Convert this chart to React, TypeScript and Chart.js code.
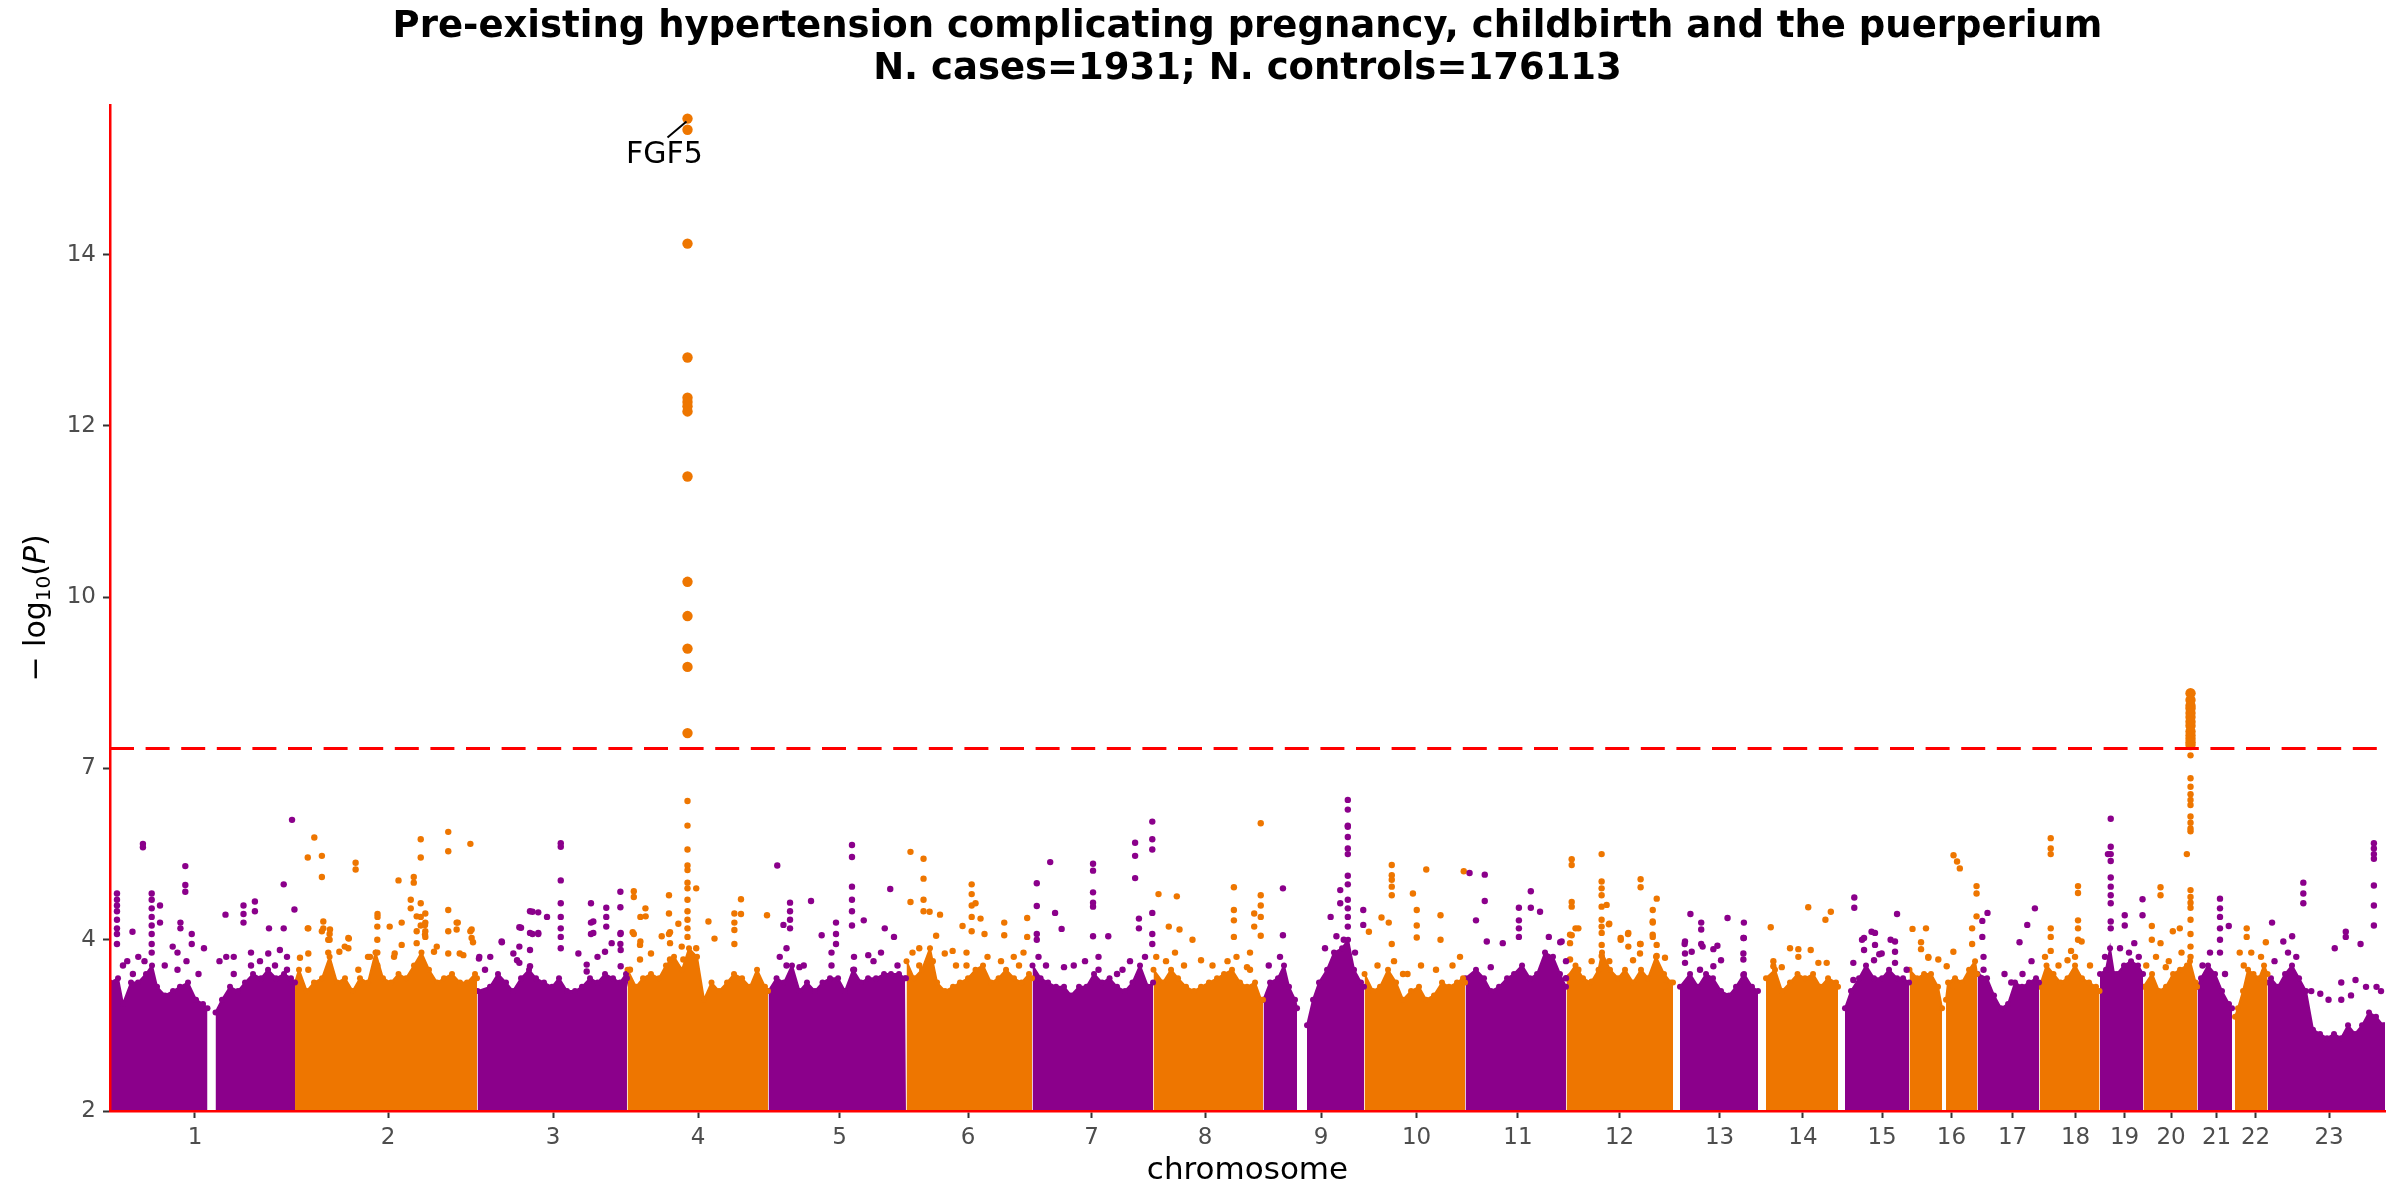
import React, { useEffect, useRef } from 'react';
import { Chart, registerables, LinearScale } from 'chart.js';

const PURPLE = '#8B008B';
const ORANGE = '#EE7600';
const FONT = "'DejaVu Sans', sans-serif";

const titleLines = [
  'Pre-existing hypertension complicating pregnancy, childbirth and the puerperium',
  'N. cases=1931; N. controls=176113',
];

// -log10(P) ticks, shown evenly spaced (stretched axis)
const yTicks = [2, 4, 7, 10, 12, 14];
const yMax = 15.75;
const sigLine = 7.35;

// cumulative genome position (Mb)
const xMax = 3033.3;
const chrLabels = ['1', '2', '3', '4', '5', '6', '7', '8', '9', '10', '11', '12', '13', '14', '15', '16', '17', '18', '19', '20', '21', '22', '23'];
const chrTickPos = [113.3, 370.7, 590.7, 784, 972.7, 1144, 1308.7, 1460, 1614.7, 1742, 1877.3, 2012.7, 2146, 2257.3, 2362.7, 2455.3, 2536.7, 2620.7, 2686, 2748, 2808.7, 2860.7, 2958.7];

const geneLabels = [{ gene: 'FGF5', x: 770, y: 15.59 }];

// top of the dense bulk of SNPs per chromosome [position, -log10 P]; null = no SNPs
const band1 = [[0, 3.5], [10.7, 3.55], [17.3, 3.25], [28, 3.5], [37.3, 3.5], [48, 3.6], [56, 3.7], [62.7, 3.45], [73.3, 3.35], [84, 3.4], [93.3, 3.45], [104, 3.5], [114.7, 3.3], [124, 3.25], [130, 3.2], [134.7, null], [140.7, 3.15], [149.3, 3.3], [160, 3.45], [170.7, 3.4], [180, 3.5], [190.7, 3.6], [201.3, 3.55], [210.7, 3.65], [221.3, 3.55], [232, 3.6], [241.3, 3.55], [246.7, 3.5]];
const band2 = [[246.7, 3.5], [252, 3.65], [262.3, 3.4], [272, 3.5], [282.7, 3.55], [292.8, 3.8], [302.7, 3.5], [313.3, 3.55], [323.5, 3.4], [333.3, 3.55], [344, 3.5], [354, 3.85], [364, 3.55], [374.7, 3.5], [384.7, 3.6], [394.7, 3.55], [405.3, 3.7], [415.3, 3.85], [425.3, 3.65], [436, 3.5], [445.3, 3.55], [456, 3.6], [466.7, 3.5], [476, 3.5], [486.7, 3.6], [489.3, 3.55]];
const band3 = [[490, 3.4], [506.7, 3.45], [517.3, 3.6], [528, 3.5], [537.3, 3.4], [548, 3.55], [558.7, 3.65], [568, 3.55], [578.7, 3.5], [589.3, 3.45], [598.7, 3.55], [609.3, 3.4], [620, 3.4], [629.3, 3.45], [640, 3.55], [650, 3.5], [660, 3.6], [670.7, 3.55], [680, 3.5], [688, 3.6], [689.3, 3.55]];
const band4 = [[690, 3.65], [701.3, 3.45], [710.7, 3.55], [721.3, 3.6], [732, 3.55], [741.3, 3.7], [752, 3.8], [762.7, 3.65], [772, 3.9], [782.7, 3.8], [792, 3.3], [802, 3.5], [812, 3.4], [822.7, 3.5], [832, 3.6], [842.7, 3.55], [853.3, 3.45], [862.7, 3.65], [873.3, 3.45], [877.3, 3.4]];
const band5 = [[878, 3.4], [888.7, 3.55], [898.7, 3.5], [909.3, 3.7], [919.3, 3.4], [929.3, 3.5], [940, 3.4], [950, 3.5], [960, 3.55], [970.7, 3.55], [980, 3.4], [990.7, 3.65], [1001.3, 3.5], [1010.7, 3.55], [1021.3, 3.55], [1032, 3.6], [1041.3, 3.6], [1052, 3.6], [1060, 3.55], [1061.3, 3.55]];
const band6 = [[1062, 3.75], [1072, 3.55], [1082.7, 3.65], [1093.3, 3.9], [1102.7, 3.5], [1113.3, 3.4], [1124, 3.45], [1133.3, 3.5], [1144, 3.55], [1154, 3.65], [1164, 3.7], [1174.7, 3.5], [1184.7, 3.55], [1194.7, 3.65], [1205.3, 3.55], [1215.3, 3.5], [1225.3, 3.6], [1229.3, 3.55]];
const band7 = [[1230, 3.7], [1240.8, 3.55], [1250.7, 3.5], [1261.3, 3.45], [1272, 3.45], [1281.3, 3.35], [1292, 3.45], [1302, 3.45], [1312, 3.6], [1322.7, 3.5], [1332.7, 3.55], [1342.7, 3.45], [1353.3, 3.4], [1363.3, 3.5], [1373.3, 3.7], [1384, 3.45], [1390.7, 3.5]];
const band8 = [[1391.3, 3.65], [1404, 3.5], [1414.7, 3.65], [1424, 3.55], [1434.7, 3.45], [1445.3, 3.4], [1454.7, 3.45], [1465.3, 3.5], [1476, 3.55], [1485.3, 3.6], [1496, 3.65], [1506.7, 3.5], [1516, 3.45], [1526.7, 3.5], [1534.7, 3.3], [1537.3, 3.3]];
const band9 = [[1538, 3.3], [1546.7, 3.5], [1557.3, 3.55], [1565.3, 3.7], [1572, 3.45], [1580, 3.3], [1582.7, 3.2], [1589.3, null], [1596, 3.0], [1604, 3.3], [1612, 3.5], [1622.7, 3.65], [1632, 3.85], [1642.7, 3.9], [1650.7, 4.0], [1658.7, 3.65], [1668, 3.5], [1672, 3.45]];
const band10 = [[1672.7, 3.6], [1684, 3.4], [1693.3, 3.45], [1704, 3.65], [1714.7, 3.5], [1724, 3.3], [1734.7, 3.4], [1745.3, 3.45], [1754.7, 3.3], [1765.3, 3.35], [1776, 3.5], [1785.3, 3.45], [1796, 3.5], [1804, 3.55], [1806.7, 3.5]];
const band11 = [[1807.3, 3.55], [1821.3, 3.65], [1832, 3.55], [1841.3, 3.4], [1852, 3.45], [1862.7, 3.55], [1872, 3.6], [1882.7, 3.7], [1893.3, 3.55], [1902.7, 3.6], [1913.3, 3.85], [1924, 3.8], [1933.3, 3.6], [1941.3, 3.45]];
const band12 = [[1942, 3.55], [1954, 3.7], [1964, 3.55], [1974.7, 3.5], [1984.7, 3.65], [1989.3, 3.85], [2000, 3.65], [2010.7, 3.55], [2020, 3.65], [2030.7, 3.5], [2041.3, 3.65], [2050.7, 3.55], [2061.3, 3.8], [2072, 3.6], [2081.3, 3.5], [2084, 3.5]];
const band13 = [[2093.3, 3.45], [2106.7, 3.6], [2117.3, 3.45], [2128, 3.6], [2137.3, 3.55], [2148, 3.4], [2158.7, 3.35], [2168, 3.45], [2178.7, 3.6], [2189.3, 3.45], [2197.3, 3.4]];
const band14 = [[2208, 3.55], [2220, 3.65], [2229.3, 3.4], [2240, 3.5], [2250, 3.6], [2260, 3.55], [2270.7, 3.6], [2280.7, 3.45], [2290.7, 3.55], [2301.3, 3.5], [2304, 3.45]];
const band15 = [[2313.3, 3.2], [2321.3, 3.4], [2332, 3.55], [2341.3, 3.7], [2352, 3.55], [2362.7, 3.55], [2372, 3.65], [2382.7, 3.55], [2390.7, 3.55], [2398.7, 3.5]];
const band16 = [[2399.3, 3.65], [2409.3, 3.55], [2418.7, 3.6], [2428, 3.6], [2437.3, 3.45], [2442.7, 3.2], [2445.3, null], [2448, 3.3], [2450.7, 3.5], [2460, 3.55], [2469.3, 3.5], [2478.7, 3.65], [2486.7, 3.75], [2489.3, 3.6]];
const band17 = [[2490, 3.6], [2502.7, 3.55], [2512, 3.35], [2521.3, 3.2], [2530.7, 3.25], [2540, 3.5], [2549.3, 3.45], [2558.7, 3.5], [2568, 3.55], [2572, 3.5]];
const band18 = [[2572.7, 3.45], [2582, 3.7], [2591.3, 3.6], [2600.7, 3.5], [2610, 3.55], [2620, 3.7], [2629.3, 3.55], [2638.7, 3.5], [2648, 3.45], [2652.7, 3.4]];
const band19 = [[2653.3, 3.6], [2661.3, 3.65], [2666.7, 3.9], [2672, 3.6], [2676, 3.6], [2685.3, 3.7], [2694.7, 3.75], [2704, 3.7], [2710.7, 3.6]];
const band20 = [[2711.3, 3.45], [2722.7, 3.6], [2732, 3.4], [2741.3, 3.45], [2750.7, 3.6], [2760, 3.65], [2769.3, 3.7], [2773.3, 3.75], [2780.7, 3.5], [2782.7, 3.45]];
const band21 = [[2783.3, 3.45], [2788, 3.55], [2797.3, 3.7], [2806.7, 3.6], [2816, 3.4], [2825.3, 3.25], [2829.3, 3.2]];
const band22 = [[2833.3, 3.1], [2837.3, 3.2], [2844, 3.4], [2850.7, 3.65], [2858, 3.6], [2865.3, 3.55], [2872, 3.7], [2876.7, 3.6]];
const band23 = [[2877.3, 3.5], [2881.3, 3.55], [2890.7, 3.45], [2900, 3.6], [2909.3, 3.7], [2918.7, 3.55], [2928, 3.4], [2937.3, 2.95], [2946.7, 2.9], [2956, 2.85], [2965.3, 2.9], [2974.7, 2.85], [2984, 3.0], [2993.3, 2.9], [3002.7, 3.0], [3012, 3.15], [3021.3, 3.1], [3030.7, 3.0], [3033.3, 3.0]];

// SNPs standing out above the bulk: [position, [-log10 P, ...]]
const hits1 = [[9.3, [4.81, 4.7, 4.6, 4.5, 4.35, 4.2, 4.1, 3.95]], [17.3, [3.7]], [23, [3.75]], [30, [4.14]], [30.5, [3.6]], [37.7, [3.8]], [43.9, [5.68, 5.62]], [46, [3.75]], [55.6, [4.81, 4.7, 4.55, 4.4, 4.25, 4.1, 3.95, 3.85]], [66.7, [4.6, 4.3]], [73, [3.7]], [83.6, [3.92]], [90, [3.85, 3.65]], [93.9, [4.3, 4.2]], [100.4, [5.29, 4.96, 4.84]], [102, [3.75]], [109, [4.1, 3.95]], [118, [3.6]], [125.3, [3.9]], [146, [3.75]], [154, [4.44]], [155, [3.8]], [165, [3.8, 3.6]], [178, [4.6, 4.45, 4.3]], [188, [3.85, 3.7]], [193.2, [4.67, 4.5]], [200, [3.75]], [211, [3.84]], [212, [4.2]], [220, [3.7]], [226.5, [3.88]], [231.6, [4.97, 4.2]], [236, [3.8, 3.65]], [242.7, [6.1]], [245.9, [4.53]]];
const hits2 = [[253.3, [3.79]], [263.7, [5.44, 4.2]], [264.4, [4.2, 3.84, 3.65]], [272.4, [5.79]], [282.5, [5.47, 5.1, 4.15]], [284.4, [4.2, 4.32]], [291, [4.0, 3.85]], [292.8, [4.1, 4.0]], [293.3, [4.18]], [305.8, [3.86]], [313, [3.92]], [317.8, [4.03, 3.9]], [318.4, [4.02]], [327.5, [5.35, 5.23]], [331.1, [3.65]], [344, [3.8]], [346.7, [3.8]], [356.4, [4.23, 4.0, 3.85, 3.7]], [356.7, [4.45, 4.4]], [372.9, [4.23]], [378.7, [3.8]], [379.6, [3.84]], [384.7, [5.04]], [388.9, [4.3, 3.94]], [401, [4.7, 4.55]], [405, [5.1, 5.0]], [408.9, [4.41, 4.15, 3.96]], [414.3, [5.76, 5.44, 4.64, 4.4, 4.25]], [420, [4.26, 4.09]], [420.4, [4.46, 4.3, 4.15, 4.05]], [432, [3.86]], [435.7, [3.92]], [451, [5.89, 5.55, 4.52, 4.15, 3.84]], [462.2, [4.3, 4.18]], [463.7, [4.3]], [466.3, [3.84]], [471.1, [3.82]], [480.5, [5.68, 4.15]], [482.2, [4.18, 4.03]], [484, [3.97]]];
const hits3 = [[491.9, [3.78]], [492.4, [3.8]], [500, [3.65]], [507, [3.8]], [522.2, [3.98]], [522.5, [3.97]], [537.8, [3.84]], [542.7, [3.76]], [545.8, [4.22, 3.92, 3.73]], [548, [4.21]], [560, [4.5, 4.12, 3.88, 3.69]], [563.3, [4.49, 4.1]], [571, [4.48, 4.12, 4.1]], [582.7, [4.4]], [601, [5.69, 5.63, 5.04, 4.64, 4.4, 4.2, 4.05, 3.9]], [624.5, [3.84]], [635.6, [3.63, 3.71]], [641.3, [4.64, 4.3, 4.1]], [644.4, [4.32, 4.12]], [650, [3.8]], [660, [3.86]], [661.7, [4.56, 4.4, 4.23]], [668.9, [3.96]], [680.5, [4.84, 4.57, 4.1, 3.95]], [680.9, [4.12, 3.88, 3.69]]];
const hits4 = [[693.3, [3.65]], [696.9, [4.13]], [698.4, [4.85, 4.75, 4.1]], [706.7, [3.94, 3.77]], [707.2, [4.4, 3.98]], [713.9, [4.55]], [714.2, [4.41]], [721.3, [3.84]], [735.6, [4.06]], [745.3, [4.78, 4.46, 4.1]], [746.7, [4.13, 3.96, 3.77]], [757.8, [4.28]], [762.3, [3.92]], [764.4, [3.77]], [770, [15.59, 15.46, 14.13, 12.8, 12.33, 12.28, 12.23, 12.17, 11.41, 10.18, 9.67, 9.1, 8.78, 7.62, 6.43, 6.0, 5.58, 5.3, 5.22, 5.0, 4.9, 4.7, 4.5, 4.35, 4.2, 4.05]], [781.6, [4.9, 3.9]], [797.9, [4.32]], [806, [4.02]], [832.5, [4.46, 4.3, 4.17, 3.95]], [841.3, [4.71, 4.45]], [876, [4.43]]];
const hits5 = [[889.7, [5.3]], [893, [3.8]], [897.9, [4.26]], [902, [3.9, 3.7]], [906.7, [4.65, 4.5, 4.35, 4.2]], [919.3, [3.68]], [925, [3.7]], [934.7, [4.68]], [948.9, [4.08]], [962, [3.85, 3.7]], [968, [4.3, 4.1, 3.95]], [989.3, [5.66, 5.45, 4.93, 4.7, 4.5, 4.25]], [992, [3.8, 3.65]], [1005, [4.34]], [1011, [3.82]], [1018, [3.75]], [1028, [3.85]], [1033, [4.2]], [1040.3, [4.89]], [1045.3, [4.05]], [1050, [3.7]]];
const hits6 = [[1067.3, [5.54, 4.66]], [1070, [3.85]], [1079, [3.9, 3.7]], [1084.7, [5.42, 5.07, 4.7, 4.5]], [1092.8, [4.49]], [1097, [3.75]], [1101.5, [4.07]], [1106.7, [4.44]], [1113, [3.84]], [1123.5, [3.87]], [1128, [3.7]], [1136.7, [4.24]], [1142, [3.85, 3.7]], [1148.9, [4.97, 4.8, 4.6, 4.4, 4.15]], [1154, [4.64]], [1160.7, [4.37]], [1166, [4.1]], [1170, [3.8]], [1188, [3.75]], [1192.3, [4.3, 4.08]], [1205, [3.8]], [1212, [3.7]], [1218, [3.85]], [1222.9, [4.38, 4.05]]];
const hits7 = [[1235.7, [4.99, 4.59, 4.1, 4.0]], [1238, [3.8]], [1248, [3.7]], [1253.6, [5.36]], [1260.1, [4.47]], [1268.8, [4.19]], [1272, [3.68]], [1285, [3.7]], [1300, [3.75]], [1310.7, [5.33, 5.21, 4.83, 4.65, 4.58, 4.06]], [1318, [3.8, 3.65]], [1331, [4.06]], [1342.7, [3.6]], [1350, [3.65]], [1360, [3.75]], [1366.8, [5.7, 5.47, 5.08]], [1371.9, [4.37, 4.2]], [1380, [3.8]], [1389.7, [6.07, 5.76, 5.58, 4.47, 4.1, 3.95]]];
const hits8 = [[1395, [3.8]], [1398, [4.8]], [1408, [3.75]], [1411.7, [4.23]], [1420, [3.85]], [1422.4, [4.76]], [1426, [4.18]], [1432, [3.7]], [1443.3, [4.0]], [1454.7, [3.76]], [1470, [3.7]], [1490, [3.75]], [1498.5, [4.92, 4.52, 4.34, 4.05]], [1502, [3.8]], [1516, [3.68]], [1520, [3.85, 3.65]], [1525.6, [4.46, 4.23]], [1534.3, [6.04, 4.78, 4.6, 4.4, 4.07]]];
const hits9 = [[1545, [3.7]], [1560, [3.8]], [1563.9, [4.9, 4.08]], [1620, [3.9]], [1627.5, [4.4]], [1635.2, [4.06]], [1640.3, [4.87, 4.64]], [1645, [4.0]], [1650.4, [6.45, 6.28, 6.0, 5.98, 5.8, 5.6, 5.5, 5.12, 4.97, 4.7, 4.55, 4.4, 4.23]], [1660, [3.85]], [1671, [4.52, 4.26]]];
const hits10 = [[1678.5, [4.14]], [1690, [3.7]], [1695.3, [4.39]], [1705, [4.3]], [1709, [5.31, 5.13, 5.05, 4.93, 4.78, 3.95]], [1712, [3.75]], [1724, [3.6]], [1730, [3.6]], [1737.2, [4.81]], [1742.3, [4.52, 4.25, 4.04]], [1748, [3.7]], [1755, [5.23]], [1768, [3.65]], [1774, [4.43, 4.0]], [1790, [3.7]], [1800, [3.8]], [1805, [5.2]]];
const hits11 = [[1812.7, [5.17]], [1821.3, [4.34]], [1833, [5.14, 4.68]], [1835.7, [3.98]], [1841, [3.68]], [1857, [3.96]], [1878.5, [4.56, 4.34, 4.2, 4.05]], [1894.4, [4.85, 4.56]], [1906.7, [4.49]], [1918.4, [4.05]], [1933.6, [3.97]], [1935.5, [3.98]], [1941.3, [3.75, 3.55]]];
const hits12 = [[1946.7, [4.09, 3.96, 3.77, 3.57]], [1948.9, [5.41, 5.31, 4.66, 4.58, 4.08]], [1954, [4.2]], [1957.8, [4.2, 3.65]], [1975.5, [3.75, 3.51]], [1988.8, [5.5, 5.02, 4.9, 4.78, 4.58, 4.35, 4.23]], [1988.9, [4.12, 3.94, 3.81]], [1995.5, [4.61]], [1998.4, [4.27]], [1999, [4.28, 3.75]], [2014.2, [4.03]], [2014.3, [4.0]], [2024, [4.1]], [2024.4, [4.12, 3.92]], [2030.7, [3.76]], [2040, [3.95, 3.84]], [2040.8, [5.06, 4.92, 3.95]], [2056.9, [4.32, 4.09]], [2057, [4.52, 4.3, 4.05]], [2062.2, [3.94, 3.81]], [2062.3, [4.72]], [2073.3, [3.79, 3.46]]];
const hits13 = [[2099.5, [3.95]], [2100, [3.98, 3.84, 3.73]], [2107.2, [4.45]], [2108.9, [3.86]], [2120, [3.65]], [2121.6, [4.3, 4.18, 3.95]], [2123.5, [3.92]], [2137.8, [3.89, 3.69]], [2143.2, [3.93]], [2148, [3.76]], [2156.7, [4.38]], [2177.8, [4.03, 3.84, 3.77, 3.59]], [2178.5, [4.3, 4.03]]];
const hits14 = [[2214.3, [4.22]], [2217.8, [3.75, 3.69, 3.57]], [2229, [3.68]], [2240, [3.9]], [2251.1, [3.89, 3.8]], [2264.3, [4.57]], [2267.6, [3.88]], [2277.8, [3.73]], [2287.2, [4.35]], [2288.9, [3.73]], [2294.4, [4.49]]];
const hits15 = [[2324.4, [3.73, 3.53]], [2325.7, [4.74, 4.56]], [2336, [4.0]], [2338.7, [4.03, 3.88]], [2348.7, [4.14]], [2352, [3.76]], [2353.3, [4.12, 3.94]], [2359, [3.83]], [2362.2, [3.84]], [2374.1, [4.0]], [2380, [3.98, 3.86, 3.73]], [2382.7, [4.45]], [2395.5, [3.65]]];
const hits16 = [[2403.3, [4.19]], [2414.7, [3.97, 3.89]], [2421.3, [4.2]], [2424.4, [3.8, 3.79]], [2437.7, [3.77]], [2448.9, [3.69]], [2457.8, [3.86, 3.46]], [2458, [5.48]], [2462.7, [5.37]], [2466.4, [5.25]], [2482.8, [4.2, 3.95]], [2488.7, [4.94, 4.81, 4.41]]];
const hits17 = [[2496.4, [4.33, 4.05]], [2498, [3.8, 3.65]], [2503.3, [4.47]], [2526, [3.6]], [2535, [3.5]], [2546, [3.97]], [2550, [3.6]], [2556.3, [4.26]], [2562, [3.75]], [2566.5, [4.55]]];
const hits18 = [[2580, [3.8]], [2587.6, [5.78, 5.6, 5.5, 4.2, 4.05, 3.87]], [2598, [3.7]], [2610, [3.76]], [2614.7, [3.87]], [2620, [3.8]], [2624, [4.94, 4.82, 4.34, 4.2, 4.0]], [2628.8, [3.98]], [2640, [3.7]]];
const hits19 = [[2660, [3.8]], [2663.9, [5.5]], [2667.6, [6.12, 5.63, 5.5, 5.38, 5.09, 4.93, 4.78, 4.64, 4.32, 4.2]], [2680, [3.9]], [2686.3, [4.43, 4.25]], [2692, [3.85]], [2699, [3.96]], [2705, [3.8]], [2710, [4.71, 4.43]]];
const hits20 = [[2715, [3.7]], [2722.4, [4.24, 4.0]], [2728, [3.8]], [2734, [4.92, 4.78, 3.96]], [2741, [3.68]], [2745, [3.75]], [2750.4, [4.15]], [2759.7, [4.2]], [2762, [3.85]], [2769.1, [5.5]], [2774, [8.32, 8.2, 8.1, 8.05, 7.97, 7.9, 7.82, 7.75, 7.65, 7.58, 7.52, 7.46, 7.41, 7.23, 6.83, 6.68, 6.55, 6.45, 6.36, 6.16, 6.05, 5.95, 5.9, 4.87, 4.75, 4.65, 4.56, 4.35, 4.1, 3.92, 3.8]]];
const hits21 = [[2790, [3.7]], [2800, [3.85]], [2813.3, [4.72, 4.55, 4.4, 4.2, 4.0, 3.85]], [2820, [3.6]], [2825, [4.24]]];
const hits22 = [[2839.6, [3.85]], [2845, [3.7]], [2848.9, [4.2, 4.05]], [2855, [3.85]], [2868, [3.8]], [2874.4, [3.97]]];
const hits23 = [[2882.7, [4.3]], [2886, [3.75]], [2897.7, [3.98]], [2904, [3.85]], [2909.5, [4.06]], [2915, [3.8]], [2924.4, [5.0, 4.81, 4.64]], [2935, [3.4]], [2947, [3.37]], [2958, [3.3]], [2966.3, [3.9]], [2975, [3.5, 3.3]], [2981, [4.14, 4.05]], [2988, [3.35]], [2994, [3.53]], [3000.7, [3.95]], [3008, [3.45]], [3018.5, [5.69, 5.6, 5.5, 5.42, 4.95, 4.6, 4.25]], [3022, [3.45]], [3028, [3.4]]];

const bands = [band1, band2, band3, band4, band5, band6, band7, band8, band9, band10, band11, band12, band13, band14, band15, band16, band17, band18, band19, band20, band21, band22, band23];
const hits = [hits1, hits2, hits3, hits4, hits5, hits6, hits7, hits8, hits9, hits10, hits11, hits12, hits13, hits14, hits15, hits16, hits17, hits18, hits19, hits20, hits21, hits22, hits23];

// y axis where every tick gap gets the same height
const tickPos = (v: number) => {
  const k = yTicks;
  const n = k.length - 1;
  if (v >= k[n]) return n + (v - k[n]) / (k[n] - k[n - 1]);
  if (v <= k[0]) return (v - k[0]) / (k[1] - k[0]);
  let i = 0;
  while (v > k[i + 1]) i++;
  return i + (v - k[i]) / (k[i + 1] - k[i]);
};

class StretchedScale extends LinearScale {
  static id = 'stretched';
  static defaults = LinearScale.defaults;

  getPixelForValue(value: any) {
    if (value === null || value === undefined || isNaN(value)) return NaN;
    const a = tickPos(this.min);
    const b = tickPos(this.max);
    return this.getPixelForDecimal((tickPos(value) - a) / (b - a));
  }

  getValueForPixel(pixel: number) {
    const a = tickPos(this.min);
    const b = tickPos(this.max);
    const p = a + this.getDecimalForPixel(pixel) * (b - a);
    const k = yTicks;
    const n = k.length - 1;
    if (p >= n) return k[n] + (p - n) * (k[n] - k[n - 1]);
    if (p <= 0) return k[0] + p * (k[1] - k[0]);
    const i = Math.floor(p);
    return k[i] + (p - i) * (k[i + 1] - k[i]);
  }
}

Chart.register(...registerables, StretchedScale);

const extras = {
  id: 'extras',
  afterDatasetsDraw(chart: any) {
    const { ctx, chartArea, scales } = chart;
    const y = scales.y.getPixelForValue(sigLine);
    ctx.save();
    ctx.strokeStyle = '#FF0000';
    ctx.lineWidth = 3;
    ctx.setLineDash([24, 11.6]);
    ctx.beginPath();
    ctx.moveTo(chartArea.left, y);
    ctx.lineTo(chartArea.right, y);
    ctx.stroke();
    ctx.setLineDash([]);

    geneLabels.forEach((g) => {
      const px = scales.x.getPixelForValue(g.x);
      const py = scales.y.getPixelForValue(g.y);
      ctx.strokeStyle = '#000';
      ctx.lineWidth = 2;
      ctx.beginPath();
      ctx.moveTo(px - 20, py + 19);
      ctx.lineTo(px - 1, py + 3);
      ctx.stroke();
      ctx.fillStyle = '#000';
      ctx.font = `30px ${FONT}`;
      ctx.textAlign = 'center';
      ctx.textBaseline = 'middle';
      ctx.fillText(g.gene, px - 23, py + 37);
    });
    ctx.restore();
  },
  afterDraw(chart: any) {
    const { ctx, chartArea } = chart;
    const parts = [
      { t: '\u2212 log', f: `30px ${FONT}`, dy: 0 },
      { t: '10', f: `20px ${FONT}`, dy: 5 },
      { t: '(', f: `30px ${FONT}`, dy: 0 },
      { t: 'P', f: `italic 30px ${FONT}`, dy: 0 },
      { t: ')', f: `30px ${FONT}`, dy: 0 },
    ];
    ctx.save();
    ctx.translate(45, (chartArea.top + chartArea.bottom) / 2);
    ctx.rotate(-Math.PI / 2);
    ctx.fillStyle = '#000';
    ctx.textBaseline = 'alphabetic';
    ctx.textAlign = 'left';
    let total = 0;
    const widths = parts.map((p) => {
      ctx.font = p.f;
      const w = ctx.measureText(p.t).width;
      total += w;
      return w;
    });
    let x = -total / 2;
    parts.forEach((p, i) => {
      ctx.font = p.f;
      ctx.fillText(p.t, x, p.dy);
      x += widths[i];
    });
    ctx.restore();
  },
};

export default function App() {
  const canvasRef = useRef<HTMLCanvasElement>(null);

  useEffect(() => {
    const bandSets = bands.map((band, i) => {
      const color = i % 2 === 0 ? PURPLE : ORANGE;
      return {
        type: 'line',
        data: band.map(([x, y]) => ({ x, y })),
        borderColor: color,
        backgroundColor: color,
        borderWidth: 2,
        pointRadius: 3,
        pointBorderWidth: 0,
        pointBackgroundColor: color,
        fill: 'start',
        tension: 0,
        spanGaps: false,
        order: 3,
      };
    });

    const dots = (odd: boolean, significant: boolean) => {
      const pts: { x: number; y: number }[] = [];
      hits.forEach((chr, i) => {
        if ((i % 2 === 0) !== odd) return;
        chr.forEach(([x, vals]: any) => {
          vals.forEach((y: number) => {
            if ((y > sigLine) === significant) pts.push({ x, y });
          });
        });
      });
      return pts;
    };

    const dotSet = (odd: boolean, significant: boolean) => ({
      type: 'scatter',
      data: dots(odd, significant),
      backgroundColor: odd ? PURPLE : ORANGE,
      borderWidth: 0,
      pointRadius: significant ? 5.2 : 3.2,
      order: significant ? 0 : 1,
    });

    const tickFont = { family: FONT, size: 23 };
    const grid = {
      display: true,
      drawOnChartArea: false,
      drawTicks: true,
      tickLength: 7,
      tickWidth: 2,
      tickColor: '#333333',
    };
    const border = { display: true, color: '#FF0000', width: 2.5, z: 1 };

    const chart = new Chart(canvasRef.current as HTMLCanvasElement, {
      type: 'scatter',
      data: {
        datasets: [
          dotSet(true, true),
          dotSet(false, true),
          dotSet(true, false),
          dotSet(false, false),
          ...bandSets,
        ] as any,
      },
      options: {
        animation: false,
        responsive: false,
        devicePixelRatio: 1,
        events: [],
        layout: { padding: { left: 10, right: 15, top: 0, bottom: 0 } },
        plugins: {
          legend: { display: false },
          tooltip: { enabled: false },
          title: {
            display: true,
            text: titleLines,
            fullSize: false,
            color: '#000',
            font: { family: FONT, size: 37, weight: 'bold', lineHeight: 1.12 },
            padding: { top: 7, bottom: 15 },
          },
        },
        scales: {
          x: {
            type: 'linear',
            min: 0,
            max: xMax,
            bounds: 'data',
            afterBuildTicks: (s: any) => {
              s.ticks = chrTickPos.map((value) => ({ value }));
            },
            afterFit: (s: any) => {
              s.height = 89;
            },
            ticks: {
              autoSkip: false,
              maxRotation: 0,
              padding: 6,
              color: '#4D4D4D',
              font: tickFont,
              callback: (_v: any, i: number) => chrLabels[i],
            },
            grid,
            border,
            title: {
              display: true,
              text: 'chromosome',
              color: '#000',
              font: { family: FONT, size: 31 },
              padding: { top: 0, bottom: 10 },
            },
          },
          y: {
            type: 'stretched',
            min: 2,
            max: yMax,
            bounds: 'data',
            afterBuildTicks: (s: any) => {
              s.ticks = yTicks.map((value) => ({ value }));
            },
            afterFit: (s: any) => {
              s.width = 100;
            },
            ticks: {
              padding: 7,
              color: '#4D4D4D',
              font: tickFont,
              callback: (v: any) => String(v),
            },
            grid,
            border,
          },
        } as any,
      },
      plugins: [extras],
    });

    return () => chart.destroy();
  }, []);

  return (
    <div style={{ position: 'fixed', left: 0, top: 0, width: 2400, height: 1200, background: '#fff' }}>
      <canvas ref={canvasRef} width={2400} height={1200} style={{ display: 'block' }} />
    </div>
  );
}
